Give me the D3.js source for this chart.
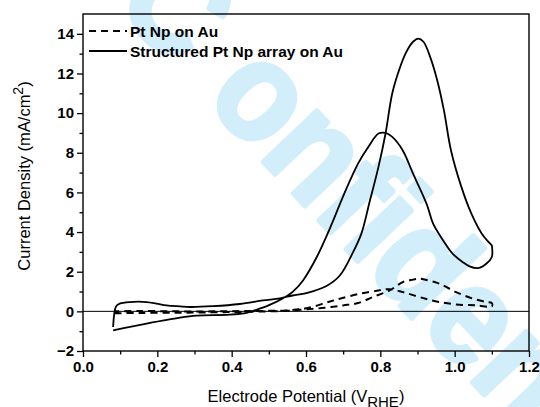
<!DOCTYPE html>
<html><head><meta charset="utf-8">
<script src="https://cdn.jsdelivr.net/npm/d3@7"></script>
<style>
html,body{margin:0;padding:0;background:#fff;}
svg{display:block;font-family:Arial,"Liberation Sans",sans-serif;}
</style></head>
<body>
<svg id="chart" width="540" height="407"></svg>
<script>
// ---- data ----
const seriesNames = ["Pt Np on Au", "Structured Pt Np array on Au"];
// Structured Pt Np array on Au: anodic (forward) scan
const structFwdV = [0.081, 0.089, 0.099, 0.126, 0.171, 0.198, 0.225, 0.261, 0.288, 0.35, 0.422, 0.484, 0.53, 0.564, 0.601, 0.655, 0.691, 0.727, 0.749, 0.772, 0.795, 0.814, 0.832, 0.851, 0.869, 0.888, 0.902, 0.916, 0.934, 0.953, 0.971, 0.99, 1.018, 1.045, 1.073, 1.1];
const structFwdJ = [-0.79, 0.25, 0.39, 0.47, 0.47, 0.39, 0.30, 0.25, 0.22, 0.26, 0.37, 0.55, 0.66, 0.80, 0.92, 1.28, 1.81, 3.0, 3.92, 5.59, 7.29, 8.97, 10.99, 12.2, 13.05, 13.6, 13.76, 13.6, 12.84, 11.66, 10.15, 8.13, 6.28, 4.93, 3.92, 3.33];
// Structured Pt Np array on Au: cathodic (backward) scan
const structBwdV = [1.1, 1.1, 1.085, 1.063, 1.04, 1.022, 0.995, 0.969, 0.942, 0.925, 0.888, 0.86, 0.832, 0.814, 0.795, 0.768, 0.74, 0.703, 0.666, 0.629, 0.592, 0.564, 0.536, 0.499, 0.462, 0.44, 0.395, 0.306, 0.261, 0.171, 0.081];
const structBwdJ = [3.33, 2.74, 2.4, 2.18, 2.27, 2.48, 2.9, 3.58, 4.42, 5.4, 6.95, 8.13, 8.8, 9.0, 8.97, 8.3, 7.45, 5.94, 4.26, 2.74, 1.56, 0.98, 0.64, 0.30, 0.05, -0.08, -0.17, -0.22, -0.32, -0.62, -0.96];
// Pt Np on Au: forward scan
const ptFwdV = [0.085, 0.15, 0.25, 0.35, 0.45, 0.55, 0.6, 0.65, 0.7, 0.74, 0.78, 0.825, 0.861, 0.888, 0.906, 0.924, 0.951, 0.969, 1.004, 1.049, 1.085, 1.1];
const ptFwdJ = [-0.1, -0.08, -0.07, -0.05, -0.02, 0.03, 0.1, 0.18, 0.3, 0.42, 0.72, 1.06, 1.48, 1.6, 1.65, 1.58, 1.45, 1.31, 0.97, 0.64, 0.47, 0.42];
// Pt Np on Au: backward scan
const ptBwdV = [1.1, 1.058, 1.004, 0.951, 0.906, 0.861, 0.825, 0.798, 0.745, 0.691, 0.66, 0.605, 0.55, 0.45, 0.35, 0.25, 0.15, 0.085];
const ptBwdJ = [0.25, 0.30, 0.35, 0.5, 0.72, 0.97, 1.12, 1.06, 0.89, 0.64, 0.47, 0.17, 0.05, 0.02, 0.0, 0.0, 0.02, 0.0];
const xTicks = [0.0, 0.2, 0.4, 0.6, 0.8, 1.0, 1.2];
const yTicks = [-2, 0, 2, 4, 6, 8, 10, 12, 14];
const xMinor = [0.1, 0.3, 0.5, 0.7, 0.9, 1.1];
const yMinor = [-1, 1, 3, 5, 7, 9, 11, 13];
const watermarkText = "Confidential";

// ---- drawing ----
const svg = d3.select("#chart");
const x = d3.scaleLinear().domain([0, 1.2]).range([83, 529]);
const y = d3.scaleLinear().domain([-2, 15]).range([351, 14]);

// watermark (behind)
const wm = svg.append("text")
  .attr("transform", "translate(140,32) rotate(46.5) scale(0.91,1)")
  .attr("font-size", 140).attr("font-weight", "bold")
  .attr("fill", "#d3eefb").attr("stroke", "#d3eefb").attr("stroke-width", 5)
  .attr("stroke-linejoin", "round");
wm.append("tspan").attr("dx", -45).text(watermarkText.slice(0, 1));
wm.append("tspan").attr("dx", 45).text(watermarkText.slice(1));

// zero line
svg.append("line")
  .attr("x1", x(0)).attr("x2", x(1.2)).attr("y1", y(0)).attr("y2", y(0))
  .attr("stroke", "#000").attr("stroke-width", 1);

const toPts = (vs, js) => vs.map((v, i) => [v, js[i]]);
const line = d3.line().x(d => x(d[0])).y(d => y(d[1])).curve(d3.curveCatmullRom.alpha(0.5));

const ptData = toPts(ptFwdV, ptFwdJ).concat(toPts(ptBwdV, ptBwdJ));
const stData = toPts(structFwdV, structFwdJ).concat(toPts(structBwdV, structBwdJ));

svg.append("path").attr("d", line(ptData))
  .attr("fill", "none").attr("stroke", "#000").attr("stroke-width", 2)
  .attr("stroke-dasharray", "7,5");
svg.append("path").attr("d", line(stData))
  .attr("fill", "none").attr("stroke", "#000").attr("stroke-width", 1.8);

// axes
const xAxis = d3.axisBottom(x).tickValues(xTicks).tickFormat(d3.format(".1f")).tickSize(6).tickPadding(4);
const yAxis = d3.axisLeft(y).tickValues(yTicks).tickFormat(d3.format("d")).tickSize(6).tickPadding(3);
const gx = svg.append("g").attr("transform", `translate(0,${y(-2)})`).call(xAxis);
const gy = svg.append("g").attr("transform", `translate(${x(0)},0)`).call(yAxis);
[gx, gy].forEach(g => {
  g.select(".domain").remove();
  g.selectAll("line").attr("stroke", "#000").attr("stroke-width", 1.3);
  g.selectAll("text").attr("font-size", 15).attr("font-weight", "bold").attr("fill", "#000")
    .attr("font-family", "Arial, 'Liberation Sans', sans-serif");
});
svg.append("g").attr("transform", `translate(0,${y(-2)})`)
  .call(d3.axisBottom(x).tickValues(xMinor).tickSize(3.5).tickFormat(""))
  .call(g => g.select(".domain").remove())
  .selectAll("line").attr("stroke", "#000").attr("stroke-width", 1.3);
svg.append("g").attr("transform", `translate(${x(0)},0)`)
  .call(d3.axisLeft(y).tickValues(yMinor).tickSize(3.5).tickFormat(""))
  .call(g => g.select(".domain").remove())
  .selectAll("line").attr("stroke", "#000").attr("stroke-width", 1.3);

// frame
svg.append("rect").attr("x", x(0)).attr("y", y(15)).attr("width", x(1.2) - x(0)).attr("height", y(-2) - y(15))
  .attr("fill", "none").attr("stroke", "#000").attr("stroke-width", 1.4);

// legend
const leg = svg.append("g");
[[seriesNames[0], "7,5", 31], [seriesNames[1], null, 51]].forEach(([name, dash, ly]) => {
  leg.append("line").attr("x1", 89).attr("x2", 127).attr("y1", ly).attr("y2", ly)
    .attr("stroke", "#000").attr("stroke-width", 1.8).attr("stroke-dasharray", dash);
  leg.append("text").attr("x", 130).attr("y", ly + 5.5)
    .attr("font-size", 15.5).attr("font-weight", "bold").text(name);
});

// axis titles
const xt = svg.append("text").attr("x", 306).attr("y", 402).attr("text-anchor", "middle").attr("font-size", 16.5);
xt.append("tspan").text("Electrode Potential (V");
xt.append("tspan").attr("dy", 5).attr("font-size", 15).text("RHE");
xt.append("tspan").attr("dy", -5).text(")");

const yt = svg.append("text").attr("transform", "translate(30,176) rotate(-90)").attr("text-anchor", "middle").attr("font-size", 16.5);
yt.append("tspan").text("Current Density (mA/cm");
yt.append("tspan").attr("dy", -7).attr("font-size", 14).text("2");
yt.append("tspan").attr("dy", 7).text(")");
</script>
</body></html>
